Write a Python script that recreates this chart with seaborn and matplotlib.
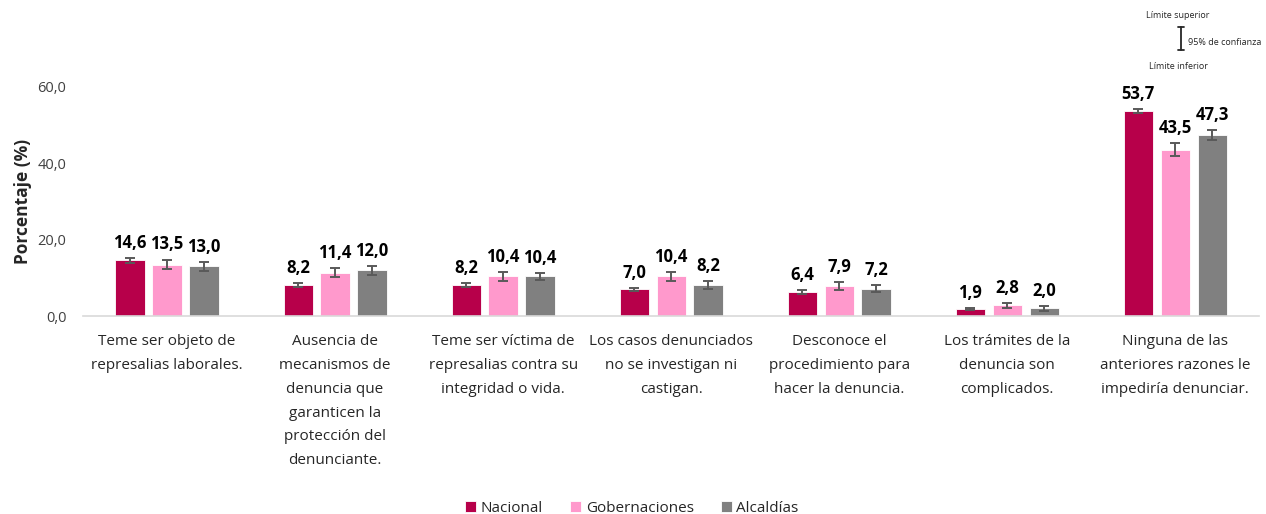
import pandas as pd
import matplotlib.pyplot as plt
import seaborn as sns

# Data
categorias = [
    "Teme ser objeto de\nrepresalias laborales.",
    "Ausencia de\nmecanismos de\ndenuncia que\ngaranticen la\nprotección del\ndenunciante.",
    "Teme ser víctima de\nrepresalias contra su\nintegridad o vida.",
    "Los casos denunciados\nno se investigan ni\ncastigan.",
    "Desconoce el\nprocedimiento para\nhacer la denuncia.",
    "Los trámites de la\ndenuncia son\ncomplicados.",
    "Ninguna de las\nanteriores razones le\nimpediría denunciar.",
]
series = ["Nacional", "Gobernaciones", "Alcaldías"]
nacional = [14.6, 8.2, 8.2, 7.0, 6.4, 1.9, 53.7]
gobernaciones = [13.5, 11.4, 10.4, 10.4, 7.9, 2.8, 43.5]
alcaldias = [13.0, 12.0, 10.4, 8.2, 7.2, 2.0, 47.3]
# half width of the 95% confidence interval
err_nacional = [0.6, 0.5, 0.5, 0.4, 0.5, 0.2, 0.6]
err_gobernaciones = [1.3, 1.1, 1.1, 1.2, 1.0, 0.6, 1.7]
err_alcaldias = [1.1, 1.2, 0.9, 1.0, 0.9, 0.6, 1.3]
colores = ["#B7004A", "#FF99CC", "#808080"]

valores = [nacional, gobernaciones, alcaldias]
errores = [err_nacional, err_gobernaciones, err_alcaldias]
df = pd.DataFrame({
    "categoria": categorias * 3,
    "serie": [s for s in series for _ in categorias],
    "valor": nacional + gobernaciones + alcaldias,
})

sns.set_style("white")
plt.rcParams["font.family"] = ["Open Sans", "DejaVu Sans"]

fig = plt.figure(figsize=(12.66, 5.14), dpi=100)
ax = fig.add_axes([0.0656, 0.385, 0.929, 0.446])

sns.barplot(data=df, x="categoria", y="valor", hue="serie", palette=colores,
            saturation=1, width=0.66, gap=0.21, errorbar=None, ax=ax,
            edgecolor="white", linewidth=0.6)

# error bars and value labels per series
bar_containers = list(ax.containers)
for i, cont in enumerate(bar_containers):
    xs = [p.get_x() + p.get_width() / 2 for p in cont.patches]
    ax.errorbar(xs, valores[i], yerr=errores[i], fmt="none", ecolor="#595959",
                elinewidth=1.4, capsize=3.5, capthick=1.4, zorder=5)
    for x, v, e in zip(xs, valores[i], errores[i]):
        ax.text(x, v + e + 1.6, f"{v:.1f}".replace(".", ","), ha="center",
                va="bottom", fontsize=12, fontweight="bold", color="black")

ax.set_ylim(0, 60)
ax.set_xlim(-0.5, 6.5)
ax.set_yticks([0, 20, 40, 60])
ax.set_yticklabels(["0,0", "20,0", "40,0", "60,0"], fontsize=10.5, color="#404040")
ax.set_xlabel("")
ax.set_ylabel("Porcentaje (%)", fontsize=12.5, fontweight="bold", labelpad=4)
ax.tick_params(axis="x", length=0, pad=13, labelsize=11, labelcolor="#262626")
ax.tick_params(axis="y", length=0, pad=12)
for lbl in ax.get_xticklabels():
    lbl.set_verticalalignment("top")
    lbl.set_linespacing(1.8)
sns.despine(ax=ax, left=True)
ax.spines["bottom"].set_color("#D9D9D9")
ax.spines["bottom"].set_linewidth(1.2)

ax.legend(loc="lower center", bbox_to_anchor=(0.4992, -0.03), bbox_transform=fig.transFigure,
          ncol=3, frameon=False, fontsize=11, handlelength=0.7, handleheight=0.7,
          handletextpad=0.3, columnspacing=1.8)

# confidence interval key in the top right corner
fig.text(0.9305, 0.969, "Límite superior", fontsize=6.5, ha="center", va="center", color="#262626")
fig.text(0.9305, 0.871, "Límite inferior", fontsize=6.5, ha="center", va="center", color="#262626")
fig.text(0.938, 0.917, "95% de confianza", fontsize=6.5, ha="left", va="center", color="#262626")
fig.lines.append(plt.Line2D([0.9329, 0.9329], [0.902, 0.947], transform=fig.transFigure,
                            color="#262626", linewidth=1.3))
for yy in (0.902, 0.947):
    fig.lines.append(plt.Line2D([0.9305, 0.9353], [yy, yy], transform=fig.transFigure,
                                color="#262626", linewidth=1.3))

fig.savefig("out.png", dpi=100)
